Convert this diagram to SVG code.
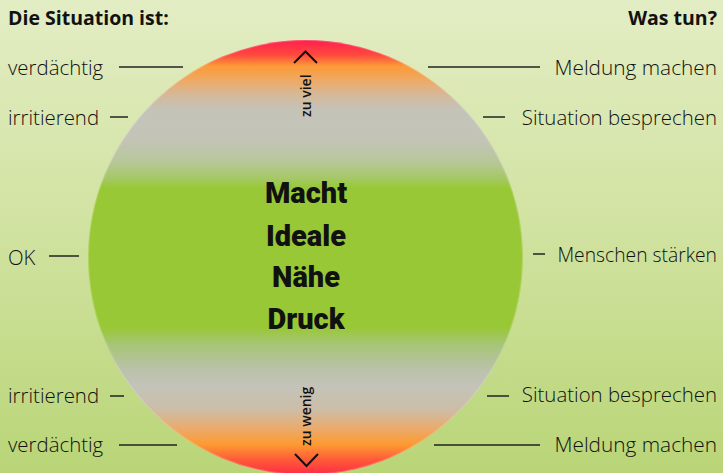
<svg xmlns="http://www.w3.org/2000/svg" width="723" height="473" viewBox="0 0 723 473">
<defs>
<linearGradient id="bg" x1="0" y1="0" x2="0" y2="1">
<stop offset="0" stop-color="#e3edc4"/>
<stop offset="0.5" stop-color="#d0e29f"/>
<stop offset="1" stop-color="#b9d577"/>
</linearGradient>
<linearGradient id="disc" gradientUnits="userSpaceOnUse" x1="0" y1="40" x2="0" y2="475">
<stop offset="0" stop-color="#ff1f4f"/>
<stop offset="0.035" stop-color="#ff4a3e"/>
<stop offset="0.06" stop-color="#fb9a38"/>
<stop offset="0.09" stop-color="#f0a860"/>
<stop offset="0.125" stop-color="#d6b898"/>
<stop offset="0.16" stop-color="#c4c3b9"/>
<stop offset="0.23" stop-color="#c3c4b6"/>
<stop offset="0.28" stop-color="#b8c79a"/>
<stop offset="0.32" stop-color="#a4c862"/>
<stop offset="0.34" stop-color="#98c836"/>
<stop offset="0.66" stop-color="#98c836"/>
<stop offset="0.70" stop-color="#a7c576"/>
<stop offset="0.76" stop-color="#bbc2ac"/>
<stop offset="0.80" stop-color="#c4c3b9"/>
<stop offset="0.85" stop-color="#cdbda6"/>
<stop offset="0.89" stop-color="#e8ac70"/>
<stop offset="0.93" stop-color="#fd9a32"/>
<stop offset="0.965" stop-color="#ff5a38"/>
<stop offset="1" stop-color="#ff2a45"/>
</linearGradient>
<style>
.lbl{font-family:"Open Sans","Liberation Sans",sans-serif;font-weight:300;font-size:20.4px;fill:#111}
.hd{font-family:"Open Sans","Liberation Sans",sans-serif;font-weight:700;font-size:19.5px;fill:#111}
.big{font-family:"Roboto","DejaVu Sans",sans-serif;font-weight:900;font-size:29px;fill:#111;text-anchor:middle}
.rot{font-family:"Open Sans","Liberation Sans",sans-serif;font-weight:600;font-size:14px;fill:#111}
.ln{stroke:#222;stroke-width:1.5;fill:none}
.chev{stroke:#111;stroke-width:2;fill:none}
.r{text-anchor:end}
.mm{font-size:20.8px}
.ms{font-size:19.3px}
</style>
</defs>
<rect width="723" height="473" fill="url(#bg)"/>
<g id="disc-node">
<circle cx="305.5" cy="257.5" r="217.5" fill="url(#disc)"/>
<circle cx="305.5" cy="257.5" r="217" fill="none" stroke="#ffffff" stroke-opacity="0.2" stroke-width="1.2"/>
</g>
<g id="center-words">
<text class="big" x="306" y="203">Macht</text>
<text class="big" x="306" y="246">Ideale</text>
<text class="big" x="306" y="287">Nähe</text>
<text class="big" x="306" y="329">Druck</text>
</g>
<g id="scale-top">
<polyline class="chev" points="294,63 305.5,51.5 317,63"/>
<text class="rot" transform="translate(311,117) rotate(-90)">zu viel</text>
</g>
<g id="scale-bottom">
<polyline class="chev" points="295,454 306.5,466 318,454"/>
<text class="rot" transform="translate(311,446) rotate(-90)">zu wenig</text>
</g>
<g id="headers">
<text class="hd" x="8" y="25">Die Situation ist:</text>
<text class="hd r" x="717" y="25">Was tun?</text>
</g>
<g id="left-labels">
<text class="lbl" x="8" y="75">verdächtig</text>
<text class="lbl" x="8" y="125">irritierend</text>
<text class="lbl" x="8" y="265">OK</text>
<text class="lbl" x="8" y="403">irritierend</text>
<text class="lbl" x="8" y="452">verdächtig</text>
</g>
<g id="right-labels">
<text class="lbl r mm" x="717" y="75">Meldung machen</text>
<text class="lbl r" x="717" y="125">Situation besprechen</text>
<text class="lbl r ms" x="717" y="262">Menschen stärken</text>
<text class="lbl r" x="717" y="402">Situation besprechen</text>
<text class="lbl r mm" x="717" y="452">Meldung machen</text>
</g>
<g id="connectors">
<line class="ln" x1="119" y1="67" x2="183" y2="67"/>
<line class="ln" x1="110" y1="117" x2="128" y2="117"/>
<line class="ln" x1="49" y1="256" x2="79" y2="256"/>
<line class="ln" x1="110" y1="396" x2="124" y2="396"/>
<line class="ln" x1="119" y1="445" x2="177" y2="445"/>
<line class="ln" x1="428" y1="67" x2="540" y2="67"/>
<line class="ln" x1="483" y1="117" x2="505" y2="117"/>
<line class="ln" x1="533" y1="254" x2="545" y2="254"/>
<line class="ln" x1="487" y1="396" x2="509" y2="396"/>
<line class="ln" x1="434" y1="445" x2="540" y2="445"/>
</g>
</svg>
